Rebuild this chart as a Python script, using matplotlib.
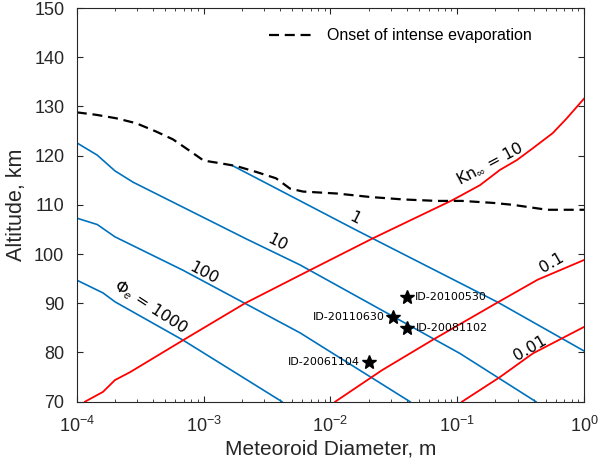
import numpy as np
import matplotlib
matplotlib.use("Agg")
import matplotlib.pyplot as plt

plt.rcParams["font.family"] = ["Liberation Sans", "DejaVu Sans"]
plt.rcParams["mathtext.fontset"] = "custom"
plt.rcParams["mathtext.rm"] = "Liberation Sans"
plt.rcParams["mathtext.it"] = "Liberation Sans:italic"

BLUE = "#0072BD"
RED = "#FF0000"
TXT = "#262626"

# onset of intense evaporation (dashed)
onset_d = [1.0e-4, 1.42e-4, 2.04e-4, 2.93e-4, 4.22e-4, 5.74e-4, 7.26e-4, 1.0e-3,
           1.32e-3, 1.80e-3, 2.59e-3, 3.72e-3, 4.80e-3, 6.08e-3, 1.13e-2, 2.05e-2,
           3.74e-2, 6.93e-2, 0.109, 0.191, 0.275, 0.375, 0.511, 1.0]
onset_h = [128.8, 128.3, 127.6, 126.6, 124.9, 123.3, 121.5, 119.0,
           118.5, 117.9, 116.7, 115.4, 113.3, 112.7, 112.3, 111.6,
           111.1, 110.8, 110.8, 110.4, 110.0, 109.5, 109.0, 109.0]

# Phi_e contours (blue)
phi1_d = [1.71e-3, 3.34e-3, 1.56e-2, 0.209, 1.0]
phi1_h = [117.9, 114.0, 105.0, 90.2, 80.3]
phi10_d = [1.0e-4, 1.45e-4, 2.0e-4, 2.78e-4, 2.20e-3, 5.75e-3, 0.105, 0.417]
phi10_h = [122.6, 120.1, 116.9, 114.6, 103.0, 97.8, 79.8, 70.0]
phi100_d = [1.0e-4, 1.45e-4, 2.0e-4, 6.89e-4, 5.75e-3, 0.0424]
phi100_h = [107.3, 106.0, 103.5, 96.7, 84.0, 70.0]
phi1000_d = [1.0e-4, 1.61e-4, 2.0e-4, 6.89e-4, 4.15e-3]
phi1000_h = [94.7, 92.1, 90.3, 82.5, 70.0]

# Kn contours (red)
kn10_d = [1.16e-4, 1.61e-4, 2.0e-4, 2.63e-4, 6.89e-4, 2.12e-3, 5.75e-3, 2.16e-2,
          9.23e-2, 0.151, 0.217, 0.295, 0.394, 0.567, 0.731, 1.0]
kn10_h = [70.0, 72.0, 74.4, 76.0, 82.5, 90.0, 95.7, 103.2,
          111.0, 114.0, 117.1, 119.1, 121.5, 124.6, 127.6, 131.6]
kn01_d = [0.0109, 0.0255, 0.0634, 0.209, 0.431, 1.0]
kn01_h = [70.0, 76.4, 82.5, 90.2, 94.8, 98.8]
kn001_d = [0.109, 0.217, 0.394, 1.0]
kn001_h = [70.0, 75.0, 79.8, 85.2]

# meteor events
ev_names = ["ID-20100530", "ID-20110630", "ID-20081102", "ID-20061104"]
ev_d = [0.040, 0.031, 0.0405, 0.020]
ev_h = [91.3, 87.2, 85.0, 78.0]


def main():
    fig = plt.figure(figsize=(6.0, 4.66), dpi=100)
    ax = fig.add_axes([0.128, 0.138, 0.8455, 0.8448])

    for d, h in [(phi1_d, phi1_h), (phi10_d, phi10_h), (phi100_d, phi100_h), (phi1000_d, phi1000_h)]:
        ax.plot(d, h, color=BLUE, lw=1.2)
    for d, h in [(kn10_d, kn10_h), (kn01_d, kn01_h), (kn001_d, kn001_h)]:
        ax.plot(d, h, color=RED, lw=1.3)

    ax.plot(onset_d, onset_h, color="k", lw=1.6, dashes=(4.5, 2.6),
            label="Onset of intense evaporation")

    ax.plot(ev_d, ev_h, "*", color="k", ms=10, ls="none")
    offsets = [(6, 0, "left"), (-6, 0, "right"), (6, 0, "left"), (-6, 0, "right")]
    for name, d, h, (dx, dy, ha) in zip(ev_names, ev_d, ev_h, offsets):
        ax.annotate(name, (d, h), xytext=(dx, dy), textcoords="offset points",
                    ha=ha, va="center", fontsize=8, family="DejaVu Sans")

    lab = dict(family=["DejaVu Sans"], fontsize=11.5, ha="center", va="center",
               rotation_mode="anchor", color="k")
    ax.text(0.0156, 107.3, "1", rotation=-27, **lab)
    ax.text(3.79e-3, 102.4, "10", rotation=-27, **lab)
    ax.text(1.0e-3, 96.2, "100", rotation=-28, **lab)
    ax.text(3.79e-4, 89.2, "Φ$_e$ = 1000", rotation=-33, **lab)
    ax.text(0.181, 118.5, r"Kn$_\infty$ = 10", rotation=28, **lab)
    ax.text(0.557, 98.2, "0.1", rotation=30, **lab)
    ax.text(0.373, 80.9, "0.01", rotation=30, **lab)

    ax.set_xscale("log")
    ax.set_xlim(1e-4, 1)
    ax.set_ylim(70, 150)
    ax.set_yticks(np.arange(70, 151, 10))
    ax.tick_params(which="both", direction="in", top=True, right=True,
                   colors=TXT, labelcolor=TXT, labelsize=13)
    ax.tick_params(which="major", length=4.5, width=0.8)
    ax.tick_params(which="minor", length=2.5, width=0.6)
    ax.tick_params(axis="x", pad=10)
    ax.tick_params(axis="y", pad=9)
    for s in ax.spines.values():
        s.set_color(TXT)
        s.set_linewidth(0.8)

    ax.set_xlabel("Meteoroid Diameter, m", fontsize=15, color=TXT, labelpad=3)
    ax.set_ylabel("Altitude, km", fontsize=15.5, color=TXT, labelpad=5)

    ax.legend(loc="upper right", bbox_to_anchor=(0.925, 0.985), frameon=False,
              fontsize=11.5, handlelength=2.8, handletextpad=0.8)

    fig.savefig("out.png", dpi=100)


if __name__ == "__main__":
    main()
